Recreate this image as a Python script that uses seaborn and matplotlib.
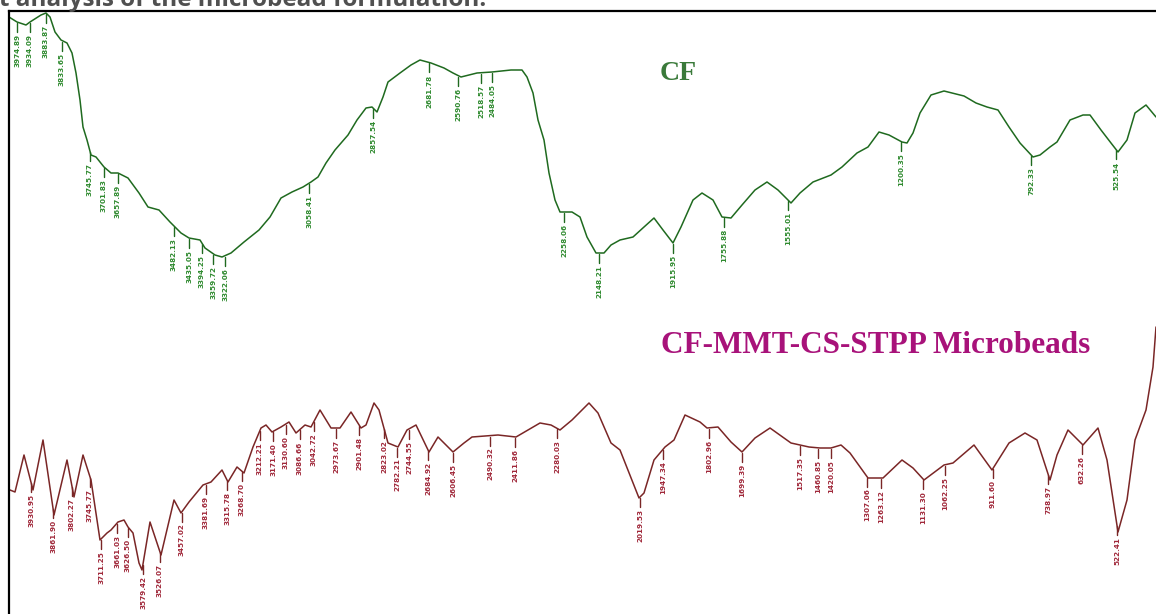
import numpy as np
import pandas as pd
import matplotlib
matplotlib.use("Agg")
import matplotlib.pyplot as plt
import seaborn as sns

# ---- data (position units, signal units) ----
cf_x = [9, 17, 26, 30, 41, 46, 50, 55, 61, 67, 72, 76, 80, 83, 87, 91, 96, 104, 111, 118,
        128, 139, 148, 159, 170, 181, 189, 200, 205, 215, 222, 231, 244, 259, 270, 281, 292,
        303, 311, 318, 326, 335, 348, 357, 366, 372, 377, 383, 388, 400, 411, 420, 431, 444,
        453, 461, 477, 492, 511, 522, 527, 533, 538, 544, 549, 555, 560, 572, 580, 587, 596,
        604, 611, 620, 633, 644, 654, 663, 673, 681, 693, 702, 713, 722, 731, 742, 755, 767,
        778, 791, 800, 813, 831, 842, 857, 868, 879, 889, 902, 907, 913, 920, 931, 944, 964,
        976, 987, 998, 1009, 1020, 1033, 1040, 1050, 1057, 1070, 1083, 1090, 1101, 1111, 1118,
        1127, 1135, 1146, 1156]
cf_y = [597, 592, 589, 592, 599, 601, 597, 582, 574, 571, 561, 541, 514, 487, 474, 459, 457,
        447, 441, 441, 436, 421, 407, 404, 392, 381, 376, 374, 366, 359, 357, 361, 372, 384,
        397, 416, 422, 427, 432, 437, 451, 464, 479, 494, 506, 507, 502, 517, 532, 541, 549,
        554, 551, 546, 541, 537, 541, 542, 544, 544, 537, 521, 494, 474, 441, 414, 402, 402,
        397, 377, 361, 361, 369, 374, 377, 387, 396, 384, 371, 387, 414, 421, 414, 397, 396,
        409, 424, 432, 424, 411, 421, 432, 439, 447, 461, 467, 482, 479, 472, 471, 481, 501,
        519, 523, 518, 511, 507, 504, 487, 471, 457, 459, 467, 472, 494, 499, 499, 484, 471,
        462, 474, 501, 509, 497]

mb_x = [10, 15, 24, 33, 43, 54, 67, 74, 83, 91, 100, 107, 111, 118, 124, 128, 133, 139, 142,
        150, 161, 174, 181, 189, 203, 211, 222, 228, 237, 244, 253, 261, 266, 272, 281, 289,
        296, 305, 311, 320, 331, 340, 351, 361, 366, 374, 379, 388, 398, 407, 416, 429, 438,
        453, 464, 472, 498, 516, 540, 551, 560, 572, 580, 589, 598, 611, 620, 639, 644, 654,
        665, 674, 685, 700, 707, 718, 731, 742, 755, 770, 791, 809, 820, 831, 841, 850, 868,
        883, 902, 913, 924, 944, 953, 974, 992, 1009, 1025, 1037, 1050, 1057, 1068, 1083,
        1098, 1107, 1118, 1127, 1135, 1146, 1153, 1156]
mb_y = [124, 122, 159, 124, 174, 99, 154, 117, 159, 134, 74, 81, 84, 92, 94, 87, 81, 51, 44,
        92, 59, 114, 101, 112, 129, 132, 144, 132, 147, 141, 167, 186, 189, 182, 187, 192,
        181, 189, 187, 204, 186, 186, 202, 186, 189, 211, 204, 171, 167, 184, 189, 162, 177,
        162, 171, 177, 179, 177, 191, 189, 184, 194, 202, 211, 201, 171, 164, 116, 121, 154,
        167, 174, 199, 192, 186, 187, 172, 162, 176, 186, 171, 167, 166, 166, 169, 161, 136,
        136, 154, 146, 134, 149, 151, 169, 144, 171, 181, 174, 134, 159, 184, 169, 186, 154,
        82, 114, 174, 204, 247, 287]

# labelled band positions
cf_marks = [17, 30, 46, 62, 90, 104, 118, 174, 189, 202, 213, 225, 309, 373, 429, 458,
            481, 492, 564, 599, 673, 724, 788, 901, 1031, 1116]
mb_marks = [31, 53, 72, 90, 101, 117, 128, 143, 160, 182, 206, 227, 242, 260, 273, 286, 300,
            314, 336, 359, 384, 397, 409, 428, 453, 490, 515, 557, 640, 663, 709, 742, 800,
            818, 831, 867, 881, 923, 945, 993, 1048, 1082, 1117]

title_text = "t analysis of the microbead formulation."
cf_label = "CF"
mb_label = "CF-MMT-CS-STPP Microbeads"

# ---- styling ----
sns.set_theme(style="white")
plt.rcParams["font.family"] = ["DejaVu Sans"]

W, H = 1156, 614
fig = plt.figure(figsize=(W / 100, H / 100), dpi=100)
fig.patch.set_facecolor("white")
ax = fig.add_axes([9 / W, 0, (W - 9) / W, 603 / H])
ax.set_facecolor("white")

cf_df = pd.DataFrame({"x": cf_x, "y": cf_y})
mb_df = pd.DataFrame({"x": mb_x, "y": mb_y})
green_line = "#1f6a1f"
red_line = "#7a2626"
sns.lineplot(data=cf_df, x="x", y="y", ax=ax, color=green_line, lw=1.1, estimator=None, sort=False)
sns.lineplot(data=mb_df, x="x", y="y", ax=ax, color=red_line, lw=1.1, estimator=None, sort=False)

ax.set_xlim(9, W)
ax.set_ylim(0, 603)
ax.set_xlabel("")
ax.set_ylabel("")
ax.set_xticks([])
ax.set_yticks([])
for s in ["right", "bottom"]:
    ax.spines[s].set_visible(False)
for s in ["top", "left"]:
    ax.spines[s].set_color("black")
    ax.spines[s].set_linewidth(1.6)


def wavenumber(x):
    return 4000 - (x - 9) / (W - 9) * 3600


def annotate(marks, xs, ys, line_c, text_c):
    for m in marks:
        yv = float(np.interp(m, xs, ys))
        ax.plot([m, m], [yv - 1, yv - 10], color=line_c, lw=1.0)
        ax.text(m, yv - 12, f"{wavenumber(m):.2f}", rotation=90, ha="center", va="top",
                fontsize=5.2, color=text_c, fontweight="bold")


annotate(cf_marks, cf_x, cf_y, green_line, "#2f8a2f")
annotate(mb_marks, mb_x, mb_y, red_line, "#a0283a")

ax.text(660, 534, cf_label, ha="left", va="baseline", fontsize=20, fontweight="bold",
        color="#3a7a3a", family=["Liberation Serif"])
ax.text(661, 261, mb_label, ha="left", va="baseline", fontsize=22.5, fontweight="bold",
        color="#a8127a", family=["Liberation Serif"])

fig.text(-0.001, 1 - 6 / H, title_text, ha="left", va="baseline", fontsize=17.5,
         fontweight="bold", color="#505050", family=["Open Sans", "DejaVu Sans"])

fig.savefig("out.png", dpi=100, facecolor="white")
